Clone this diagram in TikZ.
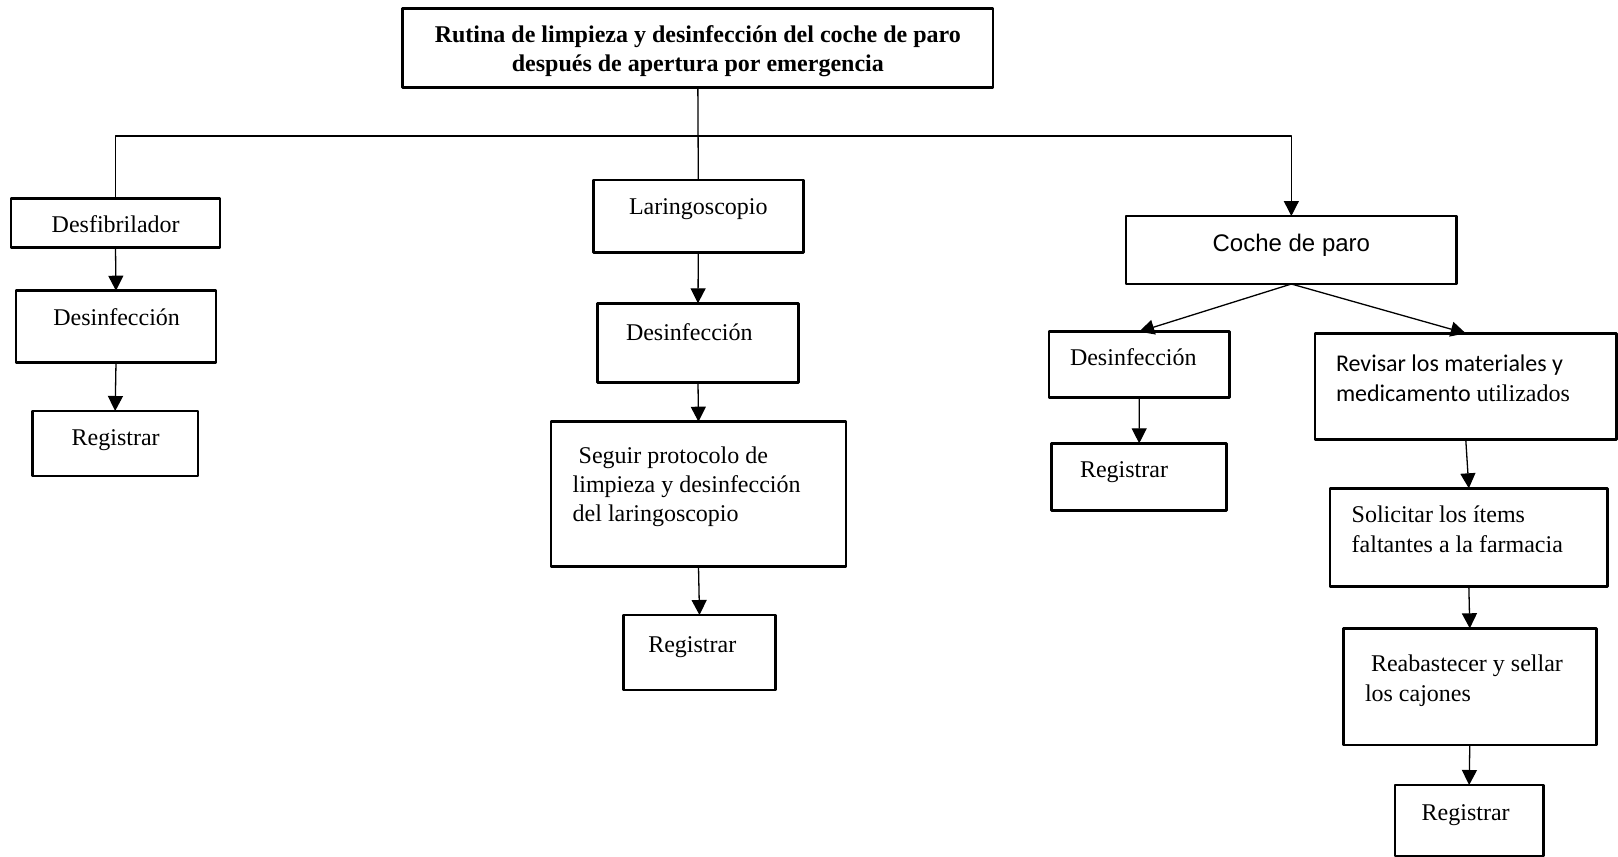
\documentclass[tikz,border=0pt]{standalone}
\usepackage{fontspec}
\setmainfont{Liberation Serif}
\newfontfamily\arialfont{Liberation Sans}
\newfontfamily\carlito{Carlito}
\usetikzlibrary{arrows.meta}

\begin{document}
\begin{tikzpicture}[x=1pt, y=-1pt, line join=round,
	font=\fontsize{24}{29}\selectfont,
	caja/.style={draw, line width=2.5pt, rectangle, anchor=north west, outer sep=0pt, inner ysep=0pt, align=flush left},
	centrada/.style={align=flush center},
	medidas/.style n args={4}{inner xsep=#1pt, text width=#2pt, text height=#3pt, text depth=#4pt},
	linea/.style={line width=1.3pt},
	flecha/.style={line width=1.3pt, -{Triangle[length=15pt, width=15pt]}}]
	\useasboundingbox (0,0) rectangle (1618,857);

	\node[caja, centrada, medidas={15}{560.3}{33.7}{45.3}, font=\fontsize{24}{29.5}\selectfont\bfseries] (titulo) at (402.7,8.3)
		{Rutina de limpieza y desinfección del coche de paro\\después de apertura por emergencia};

	\node[caja, medidas={40.7}{127.6}{34.4}{15}] (desf) at (11,198.3) {Desfibrilador};
	\node[caja, medidas={37.3}{125.4}{34.3}{37.3}] (desinf1) at (16,290.7) {Desinfección};
	\node[caja, medidas={39.4}{86.9}{34.7}{30.3}] (reg1) at (32.3,411) {Registrar};

	\node[caja, medidas={35.7}{138.6}{34.5}{38.2}] (lar) at (593.3,180) {Laringoscopio};
	\node[caja, medidas={28.3}{144}{37.4}{41.6}] (desinf2) at (597.7,303.3) {Desinfección};
	\node[caja, medidas={21.7}{251.6}{41.9}{103.1}, font=\fontsize{24}{29}\selectfont] (seguir) at (551,421.7)
		{\ Seguir protocolo de\\limpieza y desinfección\\del laringoscopio};
	\node[caja, medidas={25}{102.4}{37.4}{37.6}] (reg2) at (623.3,615) {Registrar};

	\node[caja, centrada, medidas={20}{290.7}{35.4}{32.6}, font=\fontsize{24}{29}\selectfont\arialfont] (coche) at (1126,216) {Coche de paro};
	\node[caja, medidas={21}{138.3}{33.6}{32}] (desinf3) at (1049,331.7) {Desinfección};
	\node[caja, medidas={28.3}{118.4}{34.2}{33.2}] (reg3) at (1051.7,443.3) {Registrar};

	\node[caja, medidas={21}{259.5}{38.4}{67.6}, font=\fontsize{24}{29.6}\selectfont] (revisar) at (1315,333.3)
		{{\carlito Revisar los materiales y}\\{\carlito medicamento} utilizados};
	\node[caja, medidas={21.7}{234.3}{34.4}{64}, font=\fontsize{24}{30}\selectfont] (solicitar) at (1330,488.3)
		{Solicitar los ítems\\faltantes a la farmacia};
	\node[caja, medidas={21.7}{209.6}{42.7}{74}, font=\fontsize{24}{30}\selectfont] (reab) at (1343.3,628.3)
		{\ Reabastecer y sellar\\los cajones};
	\node[caja, medidas={26.7}{94.9}{35}{36}] (reg4) at (1395,785) {Registrar};

	\coordinate (barra) at (0,136);
	\draw[linea] (titulo.south) -- (lar.north);
	\draw[flecha] (desf.north) |- (barra -| coche.north) -- (coche.north);

	\draw[flecha] (desf.south) -- (desinf1.north);
	\draw[flecha] (desinf1.south) -- (reg1.north);

	\draw[flecha] (lar.south) -- (desinf2.north);
	\draw[flecha] (desinf2.south) -- (seguir.north);
	\draw[flecha] (seguir.south) -- (reg2.north);

	\draw[flecha] (coche.south) -- (desinf3.north);
	\draw[flecha] (coche.south) -- (revisar.north);
	\draw[flecha] (desinf3.south) -- (reg3.north);
	\draw[flecha] (revisar.south) -- (solicitar.north);
	\draw[flecha] (solicitar.south) -- (reab.north);
	\draw[flecha] (reab.south) -- (reg4.north);
\end{tikzpicture}
\end{document}
